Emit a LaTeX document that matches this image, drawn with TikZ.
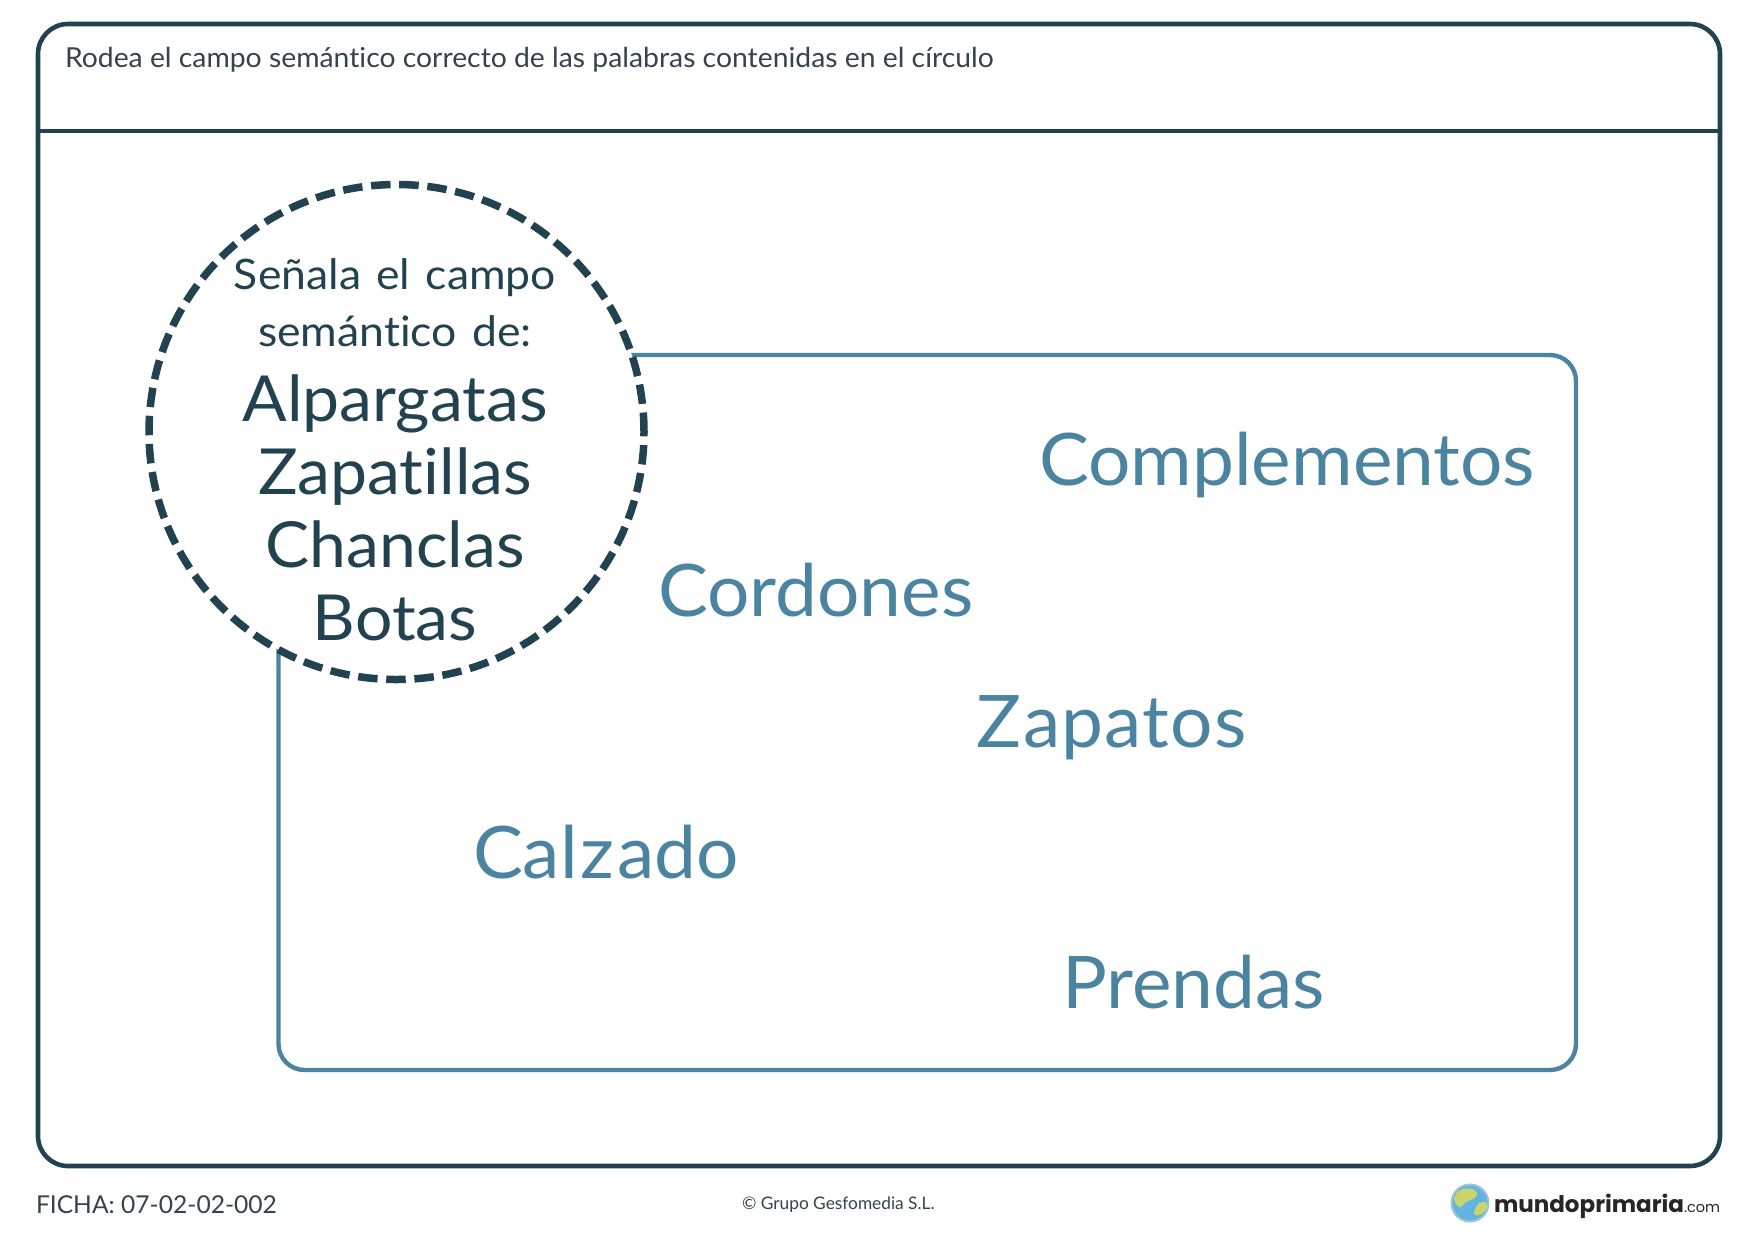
\documentclass[tikz,border=0pt]{standalone}
\usepackage{fontspec}
\setmainfont{Lato}[Ligatures=NoCommon]
\newfontfamily\widea{Lato}[Ligatures=NoCommon,FakeStretch=1.032]
\newfontfamily\wideb{Lato}[Ligatures=NoCommon,FakeStretch=1.04]
\newfontfamily\widec{Lato}[Ligatures=NoCommon,FakeStretch=1.06,WordSpace=1.35]
\newfontfamily\wided{Lato}[Ligatures=NoCommon,FakeStretch=1.03]
\newfontfamily\logofont{Poppins}
\newcommand{\fsz}[1]{\fontsize{#1}{#1}\selectfont}
\definecolor{darkink}{HTML}{23424F}
\definecolor{blueink}{HTML}{4A84A0}
\definecolor{greyink}{HTML}{33444C}
\definecolor{globeblue}{HTML}{62B4E0}
\definecolor{globeland}{HTML}{C9D46C}
\definecolor{globering}{HTML}{9CC4D8}
\tikzset{
  x=1pt,y=-1pt,
  txt/.style={anchor=base west,inner sep=0pt,outer sep=0pt},
  ctxt/.style={anchor=base,inner sep=0pt,outer sep=0pt,text=darkink},
  word/.style={txt,text=blueink,font={\widea\fsz{72.5}}},
  small/.style={ctxt,font={\widec\fsz{42}}},
  big/.style={ctxt,font={\wideb\fsz{63.5}}},
  frame/.style={draw=darkink,line width=4.6pt,rounded corners=30pt},
  optbox/.style={draw=blueink,line width=4.4pt,rounded corners=26pt},
  dashring/.style={circle,draw=darkink,fill=white,line width=7.5pt,dash pattern=on 19.5pt off 8.7pt,minimum size=495pt,inner sep=0pt},
}
\begin{document}
\begin{tikzpicture}
\useasboundingbox (0,0) rectangle (1754,1240);
\fill[white] (0,0) rectangle (1754,1240);
\draw[frame] (38,24) rectangle (1720,1166);
\draw[draw=darkink,line width=4.6pt] (38,131) -- (1720,131);
\node[txt,text=greyink,font={\wided\fsz{27.5}}] (title) at (65,67) {Rodea el campo semántico correcto de las palabras contenidas en el círculo};
\draw[optbox] (278.5,355) rectangle (1576,1070);
\node[dashring] (ring) at (396.5,432) {};
\node[small] (s1) at (395,289) {Señala el campo};
\node[small] (s2) at (395,346) {semántico de:};
\node[big] (b1) at (395,421) {Alpargatas};
\node[big] (b2) at (395,494) {Zapatillas};
\node[big] (b3) at (395,567) {Chanclas};
\node[big] (b4) at (395,640) {Botas};
\node[word] (w1) at (1039,485) {Complementos};
\node[word] (w2) at (658,616) {Cordones};
\node[word] (w3) at (976,747) {Z\kern2.5pt a\kern1pt p\kern1pt a\kern1pt t\kern1pt o\kern1pt s};
\node[word] (w4) at (473,878) {Cal\kern3pt z\kern3pt ado};
\node[word] (w5) at (1062,1008) {Prendas};
\node[txt,text=greyink,font=\fsz{24.6}] (ficha) at (36,1213) {FICHA: 07-02-02-002};
\node[txt,text=greyink,font=\fsz{17.3}] (copy) at (742,1209) {© Grupo Gesfomedia S.L.};
% logo
\fill[globeblue] (1470,1203) circle (18);
\draw[globering,line width=2pt] (1470,1203) circle (18.5);
\fill[globeland] (1457,1192) .. controls (1465,1186) and (1478,1188) .. (1477,1195) .. controls (1476,1201) and (1466,1199) .. (1463,1205) .. controls (1460,1210) and (1455,1205) .. (1454,1199) -- cycle;
\fill[globeland] (1478,1204) .. controls (1484,1200) and (1488,1202) .. (1487,1207) .. controls (1485,1213) and (1479,1217) .. (1475,1215) .. controls (1472,1212) and (1476,1208) .. (1478,1204) -- cycle;
\node[txt,text=black!85,font={\logofont\fontsize{23}{23}\selectfont\bfseries}] (logo) at (1494,1212) {mundoprimaria};
\node[txt,text=black!85,font={\logofont\fontsize{14.5}{14.5}\selectfont}] (dotcom) at (logo.base east) {.com};
\end{tikzpicture}
\end{document}
